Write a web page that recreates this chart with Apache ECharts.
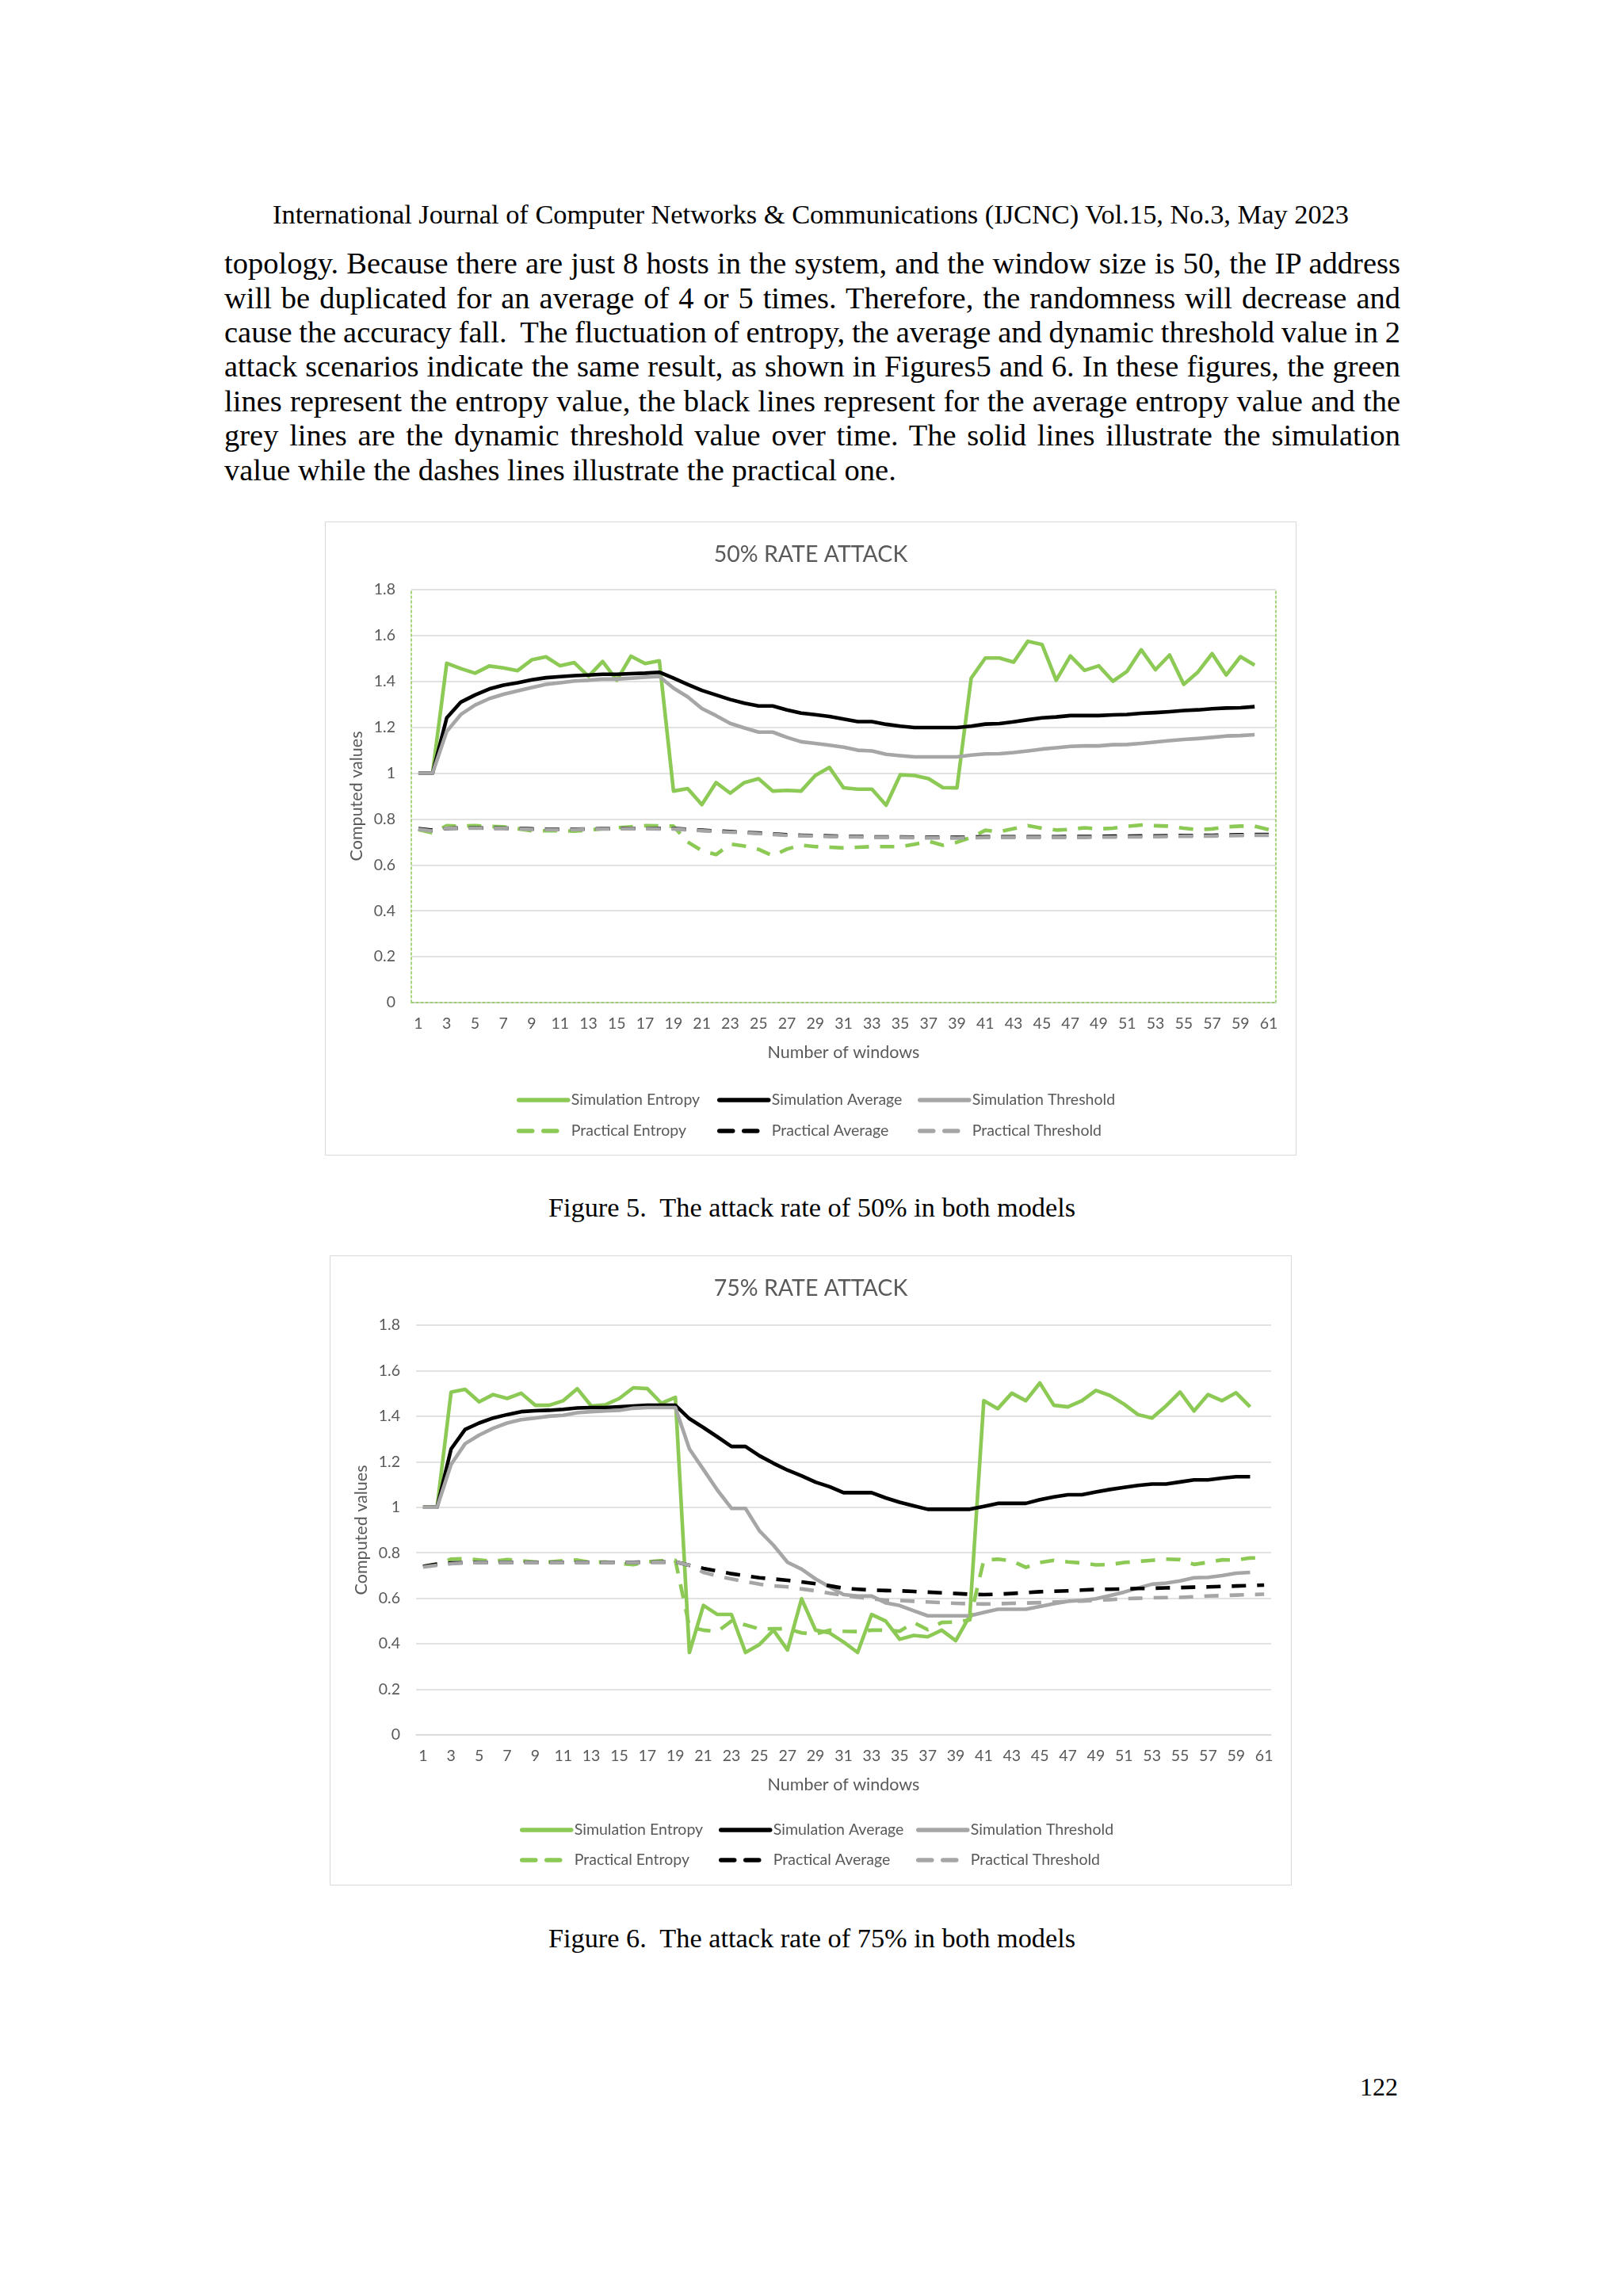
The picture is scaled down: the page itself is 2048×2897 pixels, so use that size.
<!DOCTYPE html>
<html>
<head>
<meta charset="utf-8">
<script src="https://cdn.jsdelivr.net/npm/echarts@6/dist/echarts.min.js"></script>
<style>
html,body{margin:0;padding:0;background:#fff;}
#page{position:relative;width:2048px;height:2897px;background:#fff;font-family:"Liberation Serif","Times New Roman",serif;color:#000;overflow:hidden;}
.t{position:absolute;white-space:nowrap;}
.hdr{left:0;width:2046px;text-align:center;font-size:34.4px;line-height:40px;top:250px;}
.bl{left:283px;font-size:38.5px;line-height:43.45px;height:43.45px;white-space:pre;}
.cap{left:0;width:2049px;text-align:center;font-size:34.3px;line-height:40px;}
.pn{left:1600px;text-align:right;font-size:32px;line-height:40px;top:2613px;width:164px;}
.chart{position:absolute;box-sizing:border-box;border:1.5px solid #D9D9D9;background:#fff;}
</style>
</head>
<body>
<div id="page">
  <div class="t hdr">International Journal of Computer Networks &amp; Communications (IJCNC) Vol.15, No.3, May 2023</div>
  <div class="t bl just" style="top:311px">topology. Because there are just 8 hosts in the system, and the window size is 50, the IP address</div>
  <div class="t bl just" style="top:354.5px">will be duplicated for an average of 4 or 5 times. Therefore, the randomness will decrease and</div>
  <div class="t bl just" style="top:398px">cause the accuracy fall.  The fluctuation of entropy, the average and dynamic threshold value in 2</div>
  <div class="t bl just" style="top:441.4px">attack scenarios indicate the same result, as shown in Figures5 and 6. In these figures, the green</div>
  <div class="t bl just" style="top:484.8px">lines represent the entropy value, the black lines represent for the average entropy value and the</div>
  <div class="t bl just" style="top:528.3px">grey lines are the dynamic threshold value over time. The solid lines illustrate the simulation</div>
  <div class="t bl" style="top:571.7px">value while the dashes lines illustrate the practical one.</div>

  <div id="c1" class="chart" style="left:410px;top:658px;width:1226px;height:800px;"></div>
  <div class="t cap" style="top:1503px">Figure 5.&nbsp; The attack rate of 50% in both models</div>

  <div id="c2" class="chart" style="left:416px;top:1584px;width:1214px;height:795px;"></div>
  <div class="t cap" style="top:2425px">Figure 6.&nbsp; The attack rate of 75% in both models</div>

  <div class="t pn">122</div>
</div>
<script>
// ---------- data ----------
const categories = ['1','2','3','4','5','6','7','8','9','10','11','12','13','14','15','16','17','18','19','20',
  '21','22','23','24','25','26','27','28','29','30','31','32','33','34','35','36','37','38','39','40',
  '41','42','43','44','45','46','47','48','49','50','51','52','53','54','55','56','57','58','59','60','61'];

const seriesNames = ['Simulation Entropy','Simulation Average','Simulation Threshold',
  'Practical Entropy','Practical Average','Practical Threshold'];

// Figure 5 : 50% rate attack
const sim50Entropy = [1.0,1.0,1.479,1.456,1.436,1.467,1.459,1.447,1.494,1.507,
  1.468,1.482,1.422,1.487,1.405,1.51,1.478,1.49,0.922,0.933,
  0.863,0.959,0.913,0.959,0.976,0.922,0.925,0.922,0.99,1.025,
  0.936,0.93,0.93,0.86,0.993,0.99,0.976,0.937,0.936,1.414,
  1.502,1.502,1.484,1.575,1.561,1.405,1.511,1.448,1.468,1.401,
  1.444,1.538,1.451,1.515,1.387,1.441,1.521,1.428,1.508,1.471];
const sim50Average = [1.0,1.0,1.241,1.31,1.341,1.367,1.384,1.394,1.407,1.416,
  1.421,1.425,1.428,1.431,1.431,1.434,1.436,1.44,1.414,1.387,
  1.361,1.341,1.321,1.305,1.293,1.293,1.276,1.262,1.255,1.247,
  1.236,1.225,1.225,1.213,1.205,1.199,1.199,1.199,1.199,1.205,
  1.214,1.216,1.224,1.233,1.241,1.245,1.251,1.251,1.251,1.254,
  1.256,1.261,1.264,1.268,1.273,1.276,1.281,1.284,1.285,1.29];
const sim50Threshold = [1.0,1.0,1.182,1.256,1.297,1.325,1.344,1.359,1.373,1.387,
  1.394,1.402,1.405,1.41,1.41,1.414,1.418,1.422,1.371,1.333,
  1.282,1.251,1.217,1.197,1.179,1.179,1.156,1.137,1.13,1.122,
  1.113,1.1,1.097,1.082,1.076,1.071,1.071,1.071,1.071,1.079,
  1.084,1.085,1.09,1.097,1.105,1.111,1.117,1.119,1.119,1.124,
  1.125,1.13,1.136,1.142,1.147,1.151,1.156,1.162,1.164,1.168];
const prac50Entropy = [0.754,0.74,0.771,0.769,0.771,0.768,0.766,0.758,0.749,0.749,
  0.749,0.747,0.752,0.758,0.762,0.766,0.771,0.77,0.769,0.7,
  0.662,0.645,0.691,0.682,0.668,0.64,0.669,0.686,0.68,0.677,
  0.674,0.677,0.68,0.68,0.68,0.69,0.703,0.686,0.699,0.72,
  0.751,0.745,0.758,0.771,0.76,0.752,0.755,0.762,0.757,0.76,
  0.768,0.774,0.771,0.769,0.76,0.754,0.757,0.766,0.769,0.769,
  0.754];
const prac50Average = [0.758,0.751,0.759,0.761,0.761,0.761,0.76,0.759,0.757,0.756,
  0.756,0.756,0.757,0.758,0.759,0.759,0.759,0.759,0.759,0.755,
  0.751,0.748,0.745,0.742,0.739,0.735,0.731,0.729,0.728,0.726,
  0.725,0.724,0.722,0.722,0.722,0.721,0.72,0.72,0.72,0.721,
  0.723,0.723,0.723,0.723,0.723,0.723,0.724,0.724,0.724,0.725,
  0.725,0.726,0.726,0.727,0.728,0.728,0.729,0.73,0.731,0.732,
  0.732];
const prac50Threshold = [0.756,0.748,0.76,0.76,0.76,0.76,0.759,0.758,0.755,0.754,
  0.754,0.754,0.756,0.757,0.757,0.758,0.758,0.757,0.757,0.753,
  0.749,0.746,0.743,0.74,0.737,0.733,0.729,0.727,0.726,0.724,
  0.723,0.722,0.72,0.72,0.72,0.719,0.718,0.718,0.717,0.718,
  0.72,0.72,0.72,0.72,0.72,0.72,0.72,0.72,0.721,0.721,
  0.722,0.722,0.723,0.724,0.725,0.725,0.726,0.727,0.728,0.729,
  0.729];

// Figure 6 : 75% rate attack
const sim75Entropy = [1.0,1.0,1.506,1.518,1.463,1.495,1.478,1.501,1.448,1.448,
  1.468,1.521,1.445,1.45,1.478,1.525,1.521,1.457,1.483,0.362,
  0.569,0.529,0.529,0.362,0.397,0.46,0.373,0.598,0.46,0.448,
  0.408,0.362,0.529,0.5,0.42,0.437,0.431,0.46,0.414,0.523,
  1.468,1.433,1.501,1.468,1.546,1.448,1.441,1.468,1.513,1.491,
  1.453,1.407,1.392,1.445,1.506,1.423,1.495,1.468,1.503,1.441];
const sim75Average = [1.0,1.0,1.256,1.342,1.37,1.392,1.407,1.42,1.424,1.426,
  1.43,1.436,1.438,1.438,1.441,1.445,1.448,1.448,1.448,1.389,
  1.35,1.309,1.267,1.267,1.226,1.193,1.163,1.138,1.11,1.09,
  1.064,1.064,1.064,1.041,1.022,1.006,0.991,0.991,0.991,0.991,
  1.004,1.017,1.017,1.017,1.033,1.045,1.055,1.055,1.067,1.078,
  1.087,1.096,1.102,1.102,1.111,1.12,1.12,1.128,1.134,1.134];
const sim75Threshold = [1.0,1.0,1.188,1.279,1.317,1.347,1.37,1.385,1.392,1.4,
  1.404,1.415,1.42,1.423,1.426,1.435,1.438,1.438,1.438,1.256,
  1.166,1.075,0.995,0.995,0.896,0.833,0.758,0.728,0.685,0.65,
  0.616,0.61,0.61,0.58,0.568,0.545,0.523,0.523,0.523,0.523,
  0.538,0.552,0.552,0.552,0.564,0.576,0.587,0.591,0.598,0.612,
  0.627,0.645,0.662,0.667,0.676,0.69,0.692,0.7,0.71,0.714];
const prac75Entropy = [0.74,0.75,0.772,0.774,0.768,0.762,0.77,0.765,0.76,0.76,
  0.765,0.768,0.757,0.76,0.753,0.748,0.76,0.765,0.767,0.475,
  0.46,0.454,0.5,0.483,0.465,0.466,0.466,0.448,0.443,0.46,
  0.455,0.454,0.46,0.46,0.455,0.494,0.462,0.494,0.496,0.505,
  0.767,0.772,0.765,0.736,0.757,0.767,0.76,0.755,0.747,0.748,
  0.757,0.762,0.767,0.772,0.77,0.749,0.758,0.769,0.768,0.777,
  0.778];
const prac75Average = [0.74,0.75,0.755,0.757,0.758,0.758,0.758,0.758,0.758,0.758,
  0.758,0.758,0.758,0.758,0.758,0.758,0.759,0.759,0.76,0.745,
  0.731,0.72,0.708,0.699,0.69,0.685,0.679,0.672,0.664,0.655,
  0.644,0.64,0.636,0.634,0.633,0.63,0.627,0.624,0.621,0.618,
  0.616,0.618,0.621,0.625,0.629,0.631,0.633,0.636,0.639,0.64,
  0.641,0.643,0.644,0.646,0.647,0.649,0.65,0.652,0.654,0.656,
  0.658];
const prac75Threshold = [0.737,0.745,0.752,0.755,0.757,0.757,0.757,0.757,0.757,0.757,
  0.757,0.757,0.757,0.757,0.757,0.757,0.758,0.758,0.76,0.745,
  0.714,0.698,0.685,0.673,0.662,0.655,0.65,0.641,0.633,0.622,
  0.613,0.605,0.598,0.592,0.59,0.587,0.584,0.581,0.578,0.576,
  0.575,0.576,0.578,0.579,0.581,0.583,0.586,0.588,0.591,0.594,
  0.598,0.6,0.602,0.603,0.604,0.607,0.61,0.612,0.614,0.616,
  0.618];

// ---------- justify body lines to the text block width ----------
(function justify() {
  const W = 1484;
  document.querySelectorAll('.bl.just').forEach(el => {
    el.style.wordSpacing = '0px';
    const w = el.getBoundingClientRect().width;
    const n = (el.textContent.match(/[ \u00a0]/g) || []).length;
    if (n > 0) el.style.wordSpacing = ((W - w) / n) + 'px';
  });
})();

// ---------- styling ----------
const GREEN = '#8CC955', BLACK = '#000000', GREY = '#A6A6A6';
const TXT = '#595959';
const FONT = 'Lato, "Open Sans", sans-serif';
const DASH = [18, 14];
const COLORS = [GREEN, BLACK, GREY, GREEN, BLACK, GREY];

function makeSeries(values) {
  return values.map((v, i) => ({
    name: seriesNames[i],
    type: 'line',
    data: v,
    symbol: 'none',
    smooth: false,
    silent: true,
    z: 2 + i,
    lineStyle: { color: COLORS[i], width: 4.6, type: i < 3 ? 'solid' : DASH, cap: 'butt', join: 'round' },
    itemStyle: { color: COLORS[i] }
  }));
}

function makeLegends(cols, rows) {
  return seriesNames.map((n, i) => ({
    data: [n],
    left: cols[i % 3],
    top: rows[Math.floor(i / 3)],
    itemWidth: 62,
    itemHeight: 20,
    itemGap: 0,
    padding: 0,
    selectedMode: false,
    itemStyle: { opacity: 0, borderWidth: 0 },
    lineStyle: { width: 5.5, opacity: 1, color: COLORS[i], type: i < 3 ? 'solid' : [17, 14], cap: 'round' },
    textStyle: { color: TXT, fontSize: 19.5, fontFamily: FONT, padding: [0, 0, 0, -1] }
  }));
}

function buildOption(cfg) {
  const border = cfg.greenBorder;
  const dotted = { color: GREEN, width: 1.5, type: [3, 3] };
  return {
    animation: false,
    backgroundColor: 'transparent',
    title: {
      text: cfg.title, left: 'center', top: cfg.titleTop,
      textStyle: { color: TXT, fontSize: 28.5, fontWeight: 'normal', fontFamily: FONT }
    },
    legend: makeLegends(cfg.legendCols, cfg.legendRows),
    grid: { left: cfg.grid.left, right: cfg.grid.right, top: cfg.grid.top, height: cfg.grid.height, containLabel: false },
    xAxis: [{
      type: 'category', data: categories, boundaryGap: true,
      name: 'Number of windows', nameLocation: 'middle', nameGap: cfg.xNameGap,
      nameTextStyle: { color: TXT, fontSize: 21.5, fontFamily: FONT },
      axisLine: { show: true, lineStyle: { color: '#D9D9D9', width: 1.5 } },
      axisTick: { show: false },
      axisLabel: { interval: 1, color: TXT, fontSize: 19.5, fontFamily: FONT, margin: 17 },
      splitLine: { show: false }
    }, {
      type: 'category', data: categories, boundaryGap: true, position: 'top',
      axisLine: { show: border, lineStyle: dotted },
      axisTick: { show: false }, axisLabel: { show: false }, splitLine: { show: false }
    }],
    yAxis: [{
      type: 'value', min: 0, max: 1.8, interval: 0.2,
      name: 'Computed values', nameLocation: 'middle', nameGap: cfg.yNameGap,
      nameTextStyle: { color: TXT, fontSize: 21.5, fontFamily: FONT },
      axisLine: { show: border, lineStyle: dotted },
      axisTick: { show: false },
      axisLabel: { color: TXT, fontSize: 19.5, fontFamily: FONT, margin: 20 },
      splitLine: { show: true, lineStyle: { color: '#D9D9D9', width: 1.5 } }
    }, {
      type: 'value', min: 0, max: 1.8, interval: 0.2, position: 'right',
      axisLine: { show: border, lineStyle: dotted },
      axisTick: { show: false }, axisLabel: { show: false }, splitLine: { show: false }
    }],
    series: makeSeries(cfg.values)
  };
}

const c1 = echarts.init(document.getElementById('c1'), null, { renderer: 'canvas' });
c1.setOption(buildOption({
  title: '50% RATE ATTACK', titleTop: 21, greenBorder: true,
  grid: { left: 108, right: 25, top: 85, height: 521 },
  xNameGap: 52, yNameGap: 46,
  legendCols: [241, 494, 747], legendRows: [719, 758],
  values: [sim50Entropy, sim50Average, sim50Threshold, prac50Entropy, prac50Average, prac50Threshold]
}));

const c2 = echarts.init(document.getElementById('c2'), null, { renderer: 'canvas' });
c2.setOption(buildOption({
  title: '75% RATE ATTACK', titleTop: 21, greenBorder: false,
  grid: { left: 108, right: 25, top: 87, height: 517 },
  xNameGap: 52, yNameGap: 46,
  legendCols: [239, 490, 739], legendRows: [714, 752],
  values: [sim75Entropy, sim75Average, sim75Threshold, prac75Entropy, prac75Average, prac75Threshold]
}));
</script>
</body>
</html>
